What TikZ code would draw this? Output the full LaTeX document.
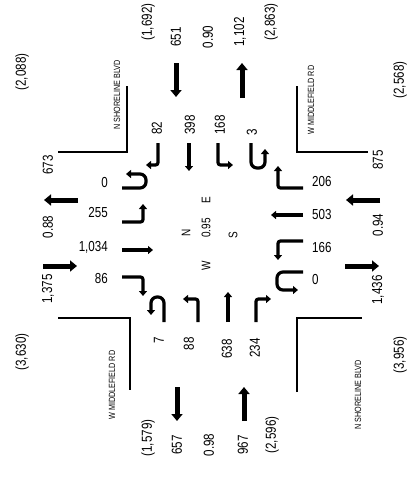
\documentclass[tikz,border=0pt]{standalone}
\usepackage{fontspec}
\setmainfont{Liberation Sans}[FakeStretch=0.8]
\usetikzlibrary{arrows.meta,positioning,calc}

\begin{document}
\begin{tikzpicture}[x=1pt,y=-1pt,
    num/.style={font=\fontsize{14.5}{15}\selectfont,inner sep=0pt},
    rnum/.style={num,rotate=90},
    street/.style={font=\fontsize{9}{10}\selectfont,inner sep=0pt,rotate=90},
    ctr/.style={font=\fontsize{12.5}{13}\selectfont,inner sep=0pt,rotate=90},
    curb/.style={line width=1.6pt},
    flow/.style={line width=5pt,-{Triangle[length=7pt,width=11pt]}},
    thru/.style={line width=3.2pt,-{Triangle[length=5pt,width=8pt]}},
    move/.style={thru,rounded corners=2.5pt}]
    \useasboundingbox (0,0) rectangle (408,480);

    \node[rnum] (ntotin) at (148,22) {(1,692)};
    \node[rnum] (nin) at (176,37) {651};
    \node[rnum] (nphf) at (208,37) {0.90};
    \node[rnum] (nout) at (240,32) {1,102};
    \node[rnum] (ntotout) at (271,22) {(2,863)};
    \draw[flow] (176,63) -- (176,97);
    \draw[flow] (242,98) -- (242,63);

    \node[rnum] (wtotin) at (22,72) {(2,088)};
    \node[rnum] (wout) at (48,165) {673};
    \node[rnum] (wphf) at (48,227) {0.88};
    \node[rnum] (win) at (48,289) {1,375};
    \node[rnum] (wtotout) at (22,352) {(3,630)};
    \draw[flow] (78,200) -- (44,200);
    \draw[flow] (43,266) -- (77,266);

    \node[rnum] (etotin) at (400,80) {(2,568)};
    \node[rnum] (ein) at (378,160) {875};
    \node[rnum] (ephf) at (378,225) {0.94};
    \node[rnum] (eout) at (378,290) {1,436};
    \node[rnum] (etotout) at (400,355) {(3,956)};
    \draw[flow] (380,200) -- (346,200);
    \draw[flow] (345,266) -- (379,266);

    \node[rnum] (stotout) at (148,438) {(1,579)};
    \node[rnum] (sout) at (177,445) {657};
    \node[rnum] (sphf) at (209,445) {0.98};
    \node[rnum] (sin) at (243,445) {967};
    \node[rnum] (stotin) at (272,435) {(2,596)};
    \draw[flow] (177,387) -- (177,421);
    \draw[flow] (244,421) -- (244,387);

    \draw[curb] (58,152) -- (127,152) -- (127,86);
    \draw[curb] (297,86) -- (297,152) -- (368,152);
    \draw[curb] (58,318) -- (130,318) -- (130,390);
    \draw[curb] (297,392) -- (297,318) -- (362,318);
    \node[street] (tlname) at (117,95) {N SHORELINE BLVD};
    \node[street] (trname) at (311,100) {W MIDDLEFIELD RD};
    \node[street] (blname) at (112,385) {W MIDDLEFIELD RD};
    \node[street] (brname) at (358,395) {N SHORELINE BLVD};

    \node[rnum,anchor=west] (nrt) at (157,135) {82};
    \node[rnum,anchor=west] (nth) at (190,135) {398};
    \node[rnum,anchor=west] (nlt) at (220,135) {168};
    \node[rnum,anchor=west] (nut) at (252,136) {3};
    \draw[move] (158,143) -- (158,165) -- (146,165);
    \draw[thru] (189,143) -- (189,171);
    \draw[move] (218,143) -- (218,165) -- (233,165);
    \draw[move,rounded corners=6pt] (251,143) -- (251,168) -- (265,168) -- (265,149);

    \node[rnum,anchor=east] (sut) at (159,337) {7};
    \node[rnum,anchor=east] (slt) at (189,337) {88};
    \node[rnum,anchor=east] (sth) at (227,339) {638};
    \node[rnum,anchor=east] (srt) at (255,338) {234};
    \draw[move,rounded corners=6pt] (164,322) -- (164,297) -- (151,297) -- (151,315);
    \draw[move] (198,322) -- (198,299) -- (183,299);
    \draw[thru] (228,322) -- (228,292);
    \draw[move] (256,322) -- (256,299) -- (271,299);

    \node[num,anchor=east] (wut) at (108,183) {0};
    \node[num,anchor=east] (wlt) at (108,213) {255};
    \node[num,anchor=east] (wth) at (108,247) {1,034};
    \node[num,anchor=east] (wrt) at (108,279) {86};
    \draw[move,rounded corners=6pt] (122,188) -- (146,188) -- (146,174) -- (126,174);
    \draw[move] (122,222) -- (143,222) -- (143,204);
    \draw[thru] (122,250) -- (153,250);
    \draw[move] (122,277) -- (143,277) -- (143,296);

    \node[num,anchor=west] (ert) at (312,182) {206};
    \node[num,anchor=west] (eth) at (312,215) {503};
    \node[num,anchor=west] (elt) at (312,248) {166};
    \node[num,anchor=west] (eut) at (312,280) {0};
    \draw[move] (303,188) -- (278,188) -- (278,166);
    \draw[thru] (303,215) -- (271,215);
    \draw[move] (303,241) -- (278,241) -- (278,260);
    \draw[move,rounded corners=6pt] (303,272) -- (277,272) -- (277,290) -- (298,290);

    \node[ctr] (north) at (186,233) {N};
    \node[ctr] (east) at (206,200) {E};
    \node[ctr] (phf) at (206,228) {0.95};
    \node[ctr] (west) at (206,266) {W};
    \node[ctr] (south) at (233,235) {S};
\end{tikzpicture}
\end{document}
